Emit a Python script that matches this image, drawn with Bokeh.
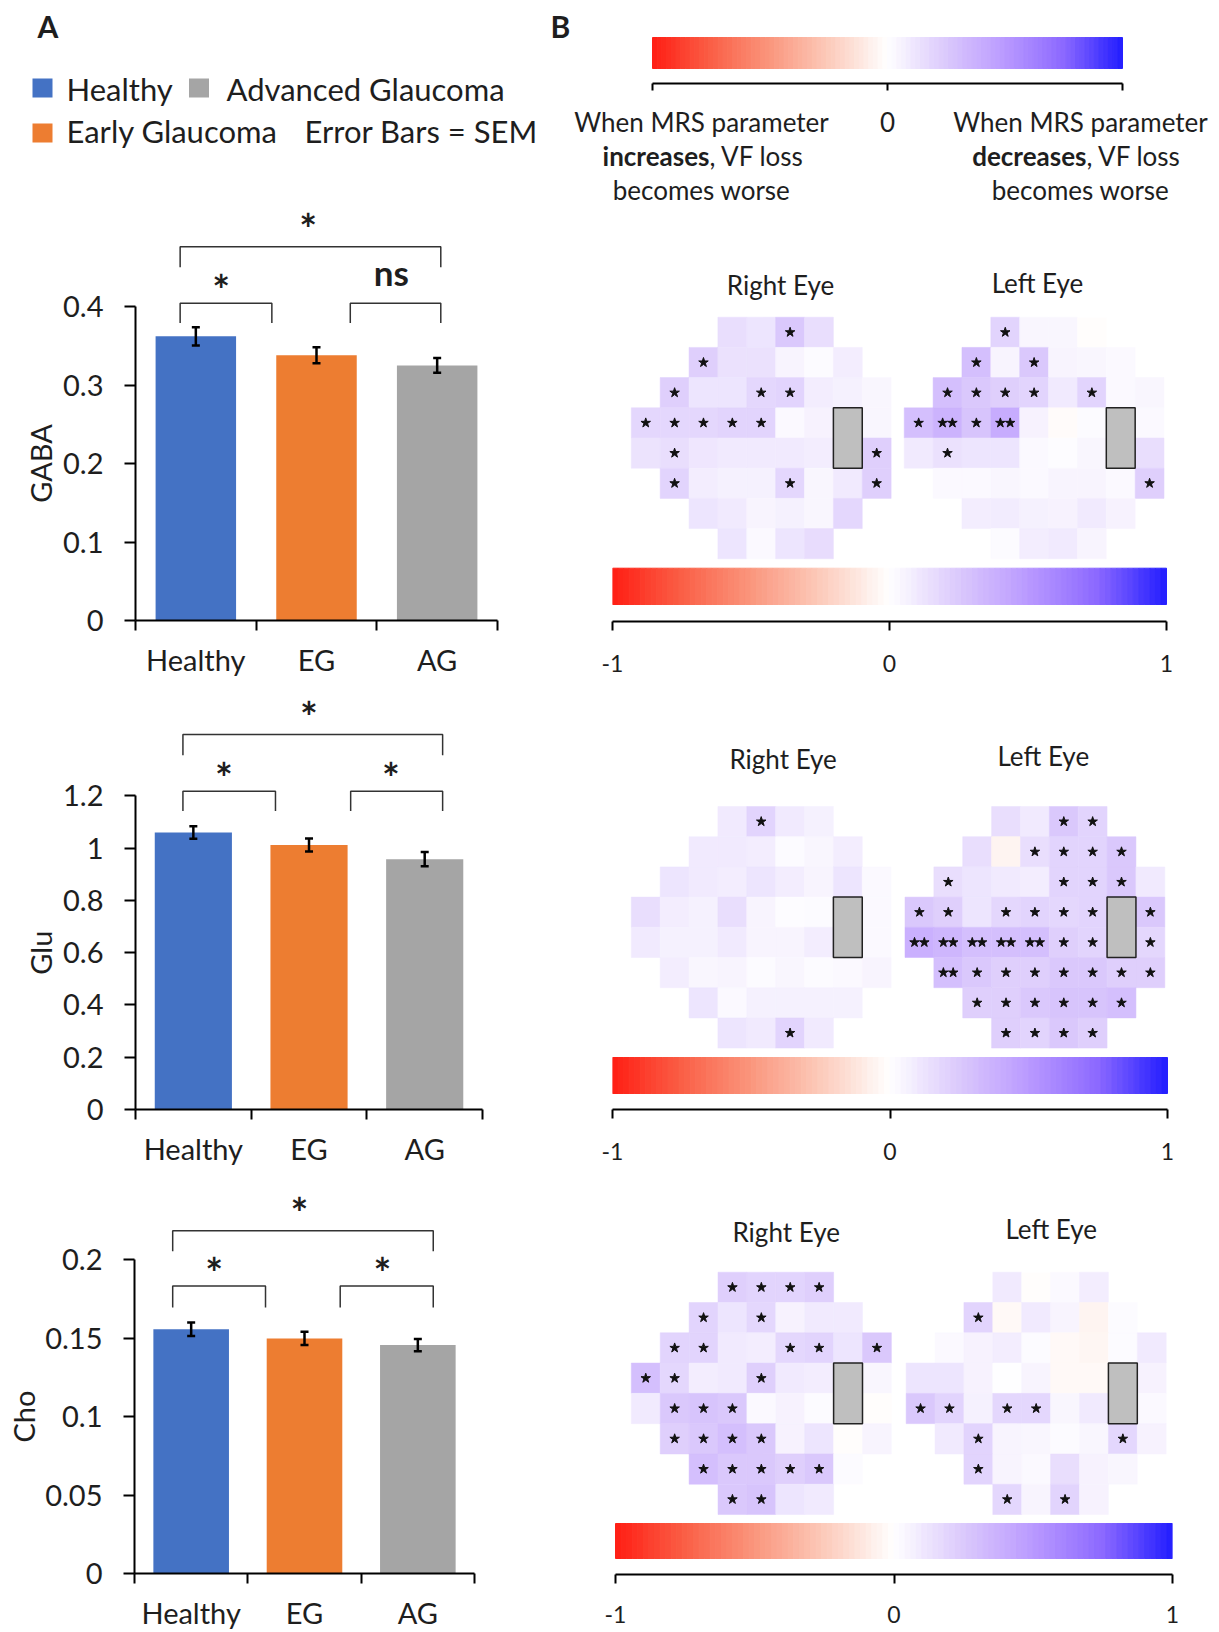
import numpy as np
from bokeh.plotting import figure
from bokeh.layouts import row, column
from bokeh.models import Range1d, FixedTicker, ColumnDataSource, Whisker, TeeHead
from bokeh.transform import linear_cmap
from bokeh.core.properties import value
from bokeh.embed import file_html
from bokeh.resources import INLINE

FONT = "Lato"
INK = "#1e1e1e"

# ------------------------------------------------------------------ data
groups = ["Healthy", "EG", "AG"]
bar_colors = ["#4472C4", "#ED7D31", "#A5A5A5"]
legend_labels = ["Healthy", "Advanced Glaucoma", "Early Glaucoma", "Error Bars = SEM"]
legend_colors = ["#4472C4", "#A5A5A5", "#ED7D31"]

gaba_mean = [0.362, 0.338, 0.325]
gaba_sem = [0.0117, 0.0102, 0.0095]
glu_mean = [1.060, 1.012, 0.958]
glu_sem = [0.024, 0.025, 0.027]
cho_mean = [0.1557, 0.1498, 0.1456]
cho_sem = [0.0043, 0.0042, 0.0039]

gaba_ticks = [0, 0.1, 0.2, 0.3, 0.4]
glu_ticks = [0, 0.2, 0.4, 0.6, 0.8, 1.0, 1.2]
cho_ticks = [0, 0.05, 0.1, 0.15, 0.2]

# significance brackets (x in category units, y in metabolite units)
gaba_br_x0 = [0.37, 1.78, 0.37]
gaba_br_x1 = [1.13, 2.53, 2.53]
gaba_br_top = [0.404, 0.404, 0.476]
gaba_br_leg = [0.379, 0.379, 0.450]
gaba_sig = ["*", "ns", "*"]
gaba_sig_x = [0.71, 2.12, 1.43]
gaba_sig_y = [0.421, 0.444, 0.499]

glu_br_x0 = [0.41, 1.86, 0.41]
glu_br_x1 = [1.21, 2.655, 2.655]
glu_br_top = [1.218, 1.218, 1.435]
glu_br_leg = [1.142, 1.142, 1.356]
glu_sig = ["*", "*", "*"]
glu_sig_x = [0.765, 2.207, 1.50]
glu_sig_y = [1.268, 1.268, 1.504]

cho_br_x0 = [0.337, 1.815, 0.337]
cho_br_x1 = [1.156, 2.636, 2.636]
cho_br_top = [0.1833, 0.1833, 0.2185]
cho_br_leg = [0.1695, 0.1695, 0.2054]
cho_sig = ["*", "*", "*"]
cho_sig_x = [0.703, 2.188, 1.455]
cho_sig_y = [0.1914, 0.1914, 0.2295]

# visual-field grids: first column index of each of the 8 rows
row_start = [3, 2, 1, 0, 0, 1, 2, 3]
# correlation values per test point (None = blind spot); stars per point ("-" = blind spot)
gaba_right = [
    [0.15, 0.12, 0.25, 0.15],
    [0.22, 0.14, 0.14, 0.05, 0.02, 0.08],
    [0.22, 0.12, 0.12, 0.18, 0.20, 0.08, 0.07, 0.04],
    [0.18, 0.18, 0.18, 0.20, 0.20, 0.03, 0.06, None, 0.04],
    [0.13, 0.15, 0.11, 0.10, 0.10, 0.10, 0.08, None, 0.22],
    [0.20, 0.08, 0.07, 0.07, 0.18, 0.04, 0.10, 0.22],
    [0.12, 0.10, 0.05, 0.07, 0.04, 0.18],
    [0.12, 0.03, 0.12, 0.16],
]
gaba_right_sig = ["0010", "100000", "10011000", "1111100-0", "0100000-1", "10001001", "000000", "0000"]
gaba_left = [
    [0.20, 0.04, 0.04, -0.01],
    [0.30, 0.05, 0.25, 0.05, 0.04, 0.03],
    [0.30, 0.25, 0.22, 0.20, 0.10, 0.20, 0.03, 0.04],
    [0.30, 0.36, 0.28, 0.40, 0.06, -0.02, 0.02, None, 0.03],
    [0.10, 0.14, 0.12, 0.12, 0.03, 0.01, 0.04, None, 0.15],
    [0.03, 0.03, 0.04, 0.03, 0.05, 0.05, 0.03, 0.22],
    [0.08, 0.09, 0.07, 0.06, 0.10, 0.06],
    [0.02, 0.08, 0.10, 0.05],
]
gaba_left_sig = ["1000", "101000", "11110100", "1212000-0", "0100000-0", "00000001", "000000", "0000"]

glu_right = [
    [0.10, 0.20, 0.10, 0.07],
    [0.10, 0.10, 0.08, 0.02, 0.04, 0.08],
    [0.12, 0.10, 0.08, 0.12, 0.08, 0.05, 0.12, 0.03],
    [0.15, 0.08, 0.07, 0.15, 0.05, 0.01, 0.02, None, 0.03],
    [0.10, 0.07, 0.07, 0.10, 0.05, 0.05, 0.08, None, 0.03],
    [0.08, 0.04, 0.05, 0.02, 0.04, 0.02, 0.03, 0.05],
    [0.12, 0.03, 0.07, 0.07, 0.07, 0.07],
    [0.12, 0.10, 0.20, 0.10],
]
glu_right_sig = ["0100", "000000", "00000000", "0000000-0", "0000000-0", "00000000", "000000", "0010"]
glu_left = [
    [0.15, 0.10, 0.25, 0.20],
    [0.15, -0.05, 0.15, 0.20, 0.20, 0.25],
    [0.15, 0.12, 0.10, 0.08, 0.20, 0.20, 0.25, 0.10],
    [0.25, 0.22, 0.12, 0.18, 0.20, 0.18, 0.20, None, 0.25],
    [0.38, 0.35, 0.30, 0.30, 0.30, 0.22, 0.20, None, 0.18],
    [0.30, 0.25, 0.22, 0.22, 0.25, 0.25, 0.22, 0.22],
    [0.22, 0.22, 0.25, 0.28, 0.28, 0.30],
    [0.22, 0.20, 0.25, 0.22],
]
glu_left_sig = ["0011", "001111", "10001110", "1101111-1", "2222211-1", "21111111", "111111", "1111"]

cho_right = [
    [0.22, 0.20, 0.20, 0.22],
    [0.20, 0.12, 0.18, 0.06, 0.10, 0.10],
    [0.20, 0.20, 0.10, 0.08, 0.18, 0.20, 0.12, 0.25],
    [0.30, 0.18, 0.08, 0.10, 0.22, 0.10, 0.08, None, 0.04],
    [0.10, 0.25, 0.28, 0.25, 0.03, 0.06, 0.02, None, -0.01],
    [0.22, 0.25, 0.30, 0.25, 0.06, 0.12, -0.01, 0.05],
    [0.30, 0.25, 0.25, 0.22, 0.25, 0.02],
    [0.25, 0.28, 0.12, 0.10],
]
cho_right_sig = ["1111", "101000", "11001101", "1100100-0", "0111000-0", "11110000", "111110", "1100"]
cho_left = [
    [0.10, -0.01, 0.03, 0.08],
    [0.20, -0.03, 0.10, 0.05, -0.05, 0.02],
    [0.03, 0.06, 0.08, 0.02, -0.03, -0.04, 0.02, 0.10],
    [0.12, 0.12, 0.06, 0.00, 0.05, -0.03, -0.03, None, 0.06],
    [0.25, 0.20, 0.07, 0.18, 0.18, 0.04, 0.10, None, 0.03],
    [0.10, 0.20, 0.05, 0.04, 0.02, 0.04, 0.18, 0.06],
    [0.20, 0.05, 0.03, 0.15, 0.06, 0.04],
    [0.18, 0.05, 0.20, 0.06],
]
cho_left_sig = ["0000", "100000", "00000000", "0000000-0", "1101100-0", "01000010", "100000", "1010"]

eye_titles = ["Right Eye", "Left Eye"]
cb_ticks = [-1, 0, 1]

# diverging colour scale (red -> white -> blue)
anchor_v = [-1, -0.75, -0.5, -0.25, 0, 0.25, 0.5, 0.75, 1]
anchor_rgb = [(255, 30, 20), (250, 95, 70), (250, 150, 125), (252, 202, 186), (255, 255, 255),
              (219, 201, 252), (186, 154, 255), (140, 105, 255), (35, 30, 255)]
_t = np.linspace(-1, 1, 256)
_ch = [np.interp(_t, anchor_v, [c[k] for c in anchor_rgb]) for k in range(3)]
PALETTE = ["#%02x%02x%02x" % (int(round(r)), int(round(g)), int(round(b))) for r, g, b in zip(*_ch)]
edges = np.linspace(-1, 1, 101)
cb_cols = [PALETTE[int(round((e + 1) / 2 * 255))] for e in (edges[:-1] + edges[1:]) / 2]


def fig(**kw):
    p = figure(output_backend="svg", toolbar_location=None, **kw)
    p.outline_line_color = None
    p.background_fill_color = "white"
    p.border_fill_color = "white"
    p.grid.visible = False
    return p


def font():
    return dict(text_font=value(FONT), text_color=INK)


TOP_H = 205

# ------------------------------------------------------------------ left header (legend)
hl = fig(width=540, height=TOP_H, x_range=Range1d(0, 540), y_range=Range1d(TOP_H, 0),
         x_axis_location=None, y_axis_location=None, min_border=0)
hl.text(x=[37], y=[25], text=["A"], text_font_size="30px", text_font_style="bold",
        text_baseline="middle", text_align="left", **font())
hl.rect(x=[42, 198.5, 42], y=[87.5, 87.5, 132.5], width=20, height=19,
        fill_color=legend_colors, line_color=None)
hl.text(x=[66, 226, 66, 304], y=[88, 88, 130, 130], text=legend_labels,
        text_font_size="31px", text_baseline="middle", text_align="left", **font())

# ------------------------------------------------------------------ bar charts
FL_BAR, FR_BAR = 134, 497


def bar_chart(height, bb, axis_end, ymax, ticks, means, sems, bx0, bx1, btop, bleg,
              sig, sigx, sigy, ylabel, ylabel_cx, lab_w):
    n = len(groups)
    yr = Range1d(0, ymax)
    p = fig(width=540 - lab_w, height=height,
            x_range=Range1d(0, n * (FR_BAR - FL_BAR) / (axis_end - FL_BAR)), y_range=yr,
            min_border_left=FL_BAR - lab_w, min_border_right=540 - FR_BAR, min_border_top=0,
            min_border_bottom=bb)
    src = ColumnDataSource(dict(
        x=[i + 0.5 for i in range(n)], top=means, color=bar_colors,
        upper=[m + s for m, s in zip(means, sems)], lower=[m - s for m, s in zip(means, sems)]))
    p.vbar(x="x", top="top", width=0.667, fill_color="color", line_color=None, source=src)
    w = Whisker(base="x", upper="upper", lower="lower", source=src, line_color="black",
                line_width=2.5, level="overlay")
    w.upper_head = TeeHead(size=8, line_width=2.5, line_color="black")
    w.lower_head = TeeHead(size=8, line_width=2.5, line_color="black")
    p.add_layout(w)
    xs = [[a, a, b, b] for a, b in zip(bx0, bx1)]
    ys = [[l, t, t, l] for t, l in zip(btop, bleg)]
    p.multi_line(xs, ys, line_color="#333333", line_width=1.5)
    sizes = ["42px" if s == "*" else "35px" for s in sig]
    p.text(x=sigx, y=sigy, text=sig, text_font_size=sizes, text_font_style="bold",
           text_align="center", text_baseline="middle", **font())

    xa = p.xaxis[0]
    xa.ticker = FixedTicker(ticks=[i + 0.5 for i in range(n)], minor_ticks=list(range(n + 1)))
    xa.major_label_overrides = {i + 0.5: g for i, g in enumerate(groups)}
    xa.bounds = (0, n)
    xa.major_tick_in = 0
    xa.major_tick_out = 0
    xa.minor_tick_in = 0
    xa.minor_tick_out = 10
    xa.minor_tick_line_width = 2
    xa.minor_tick_line_color = "black"
    xa.axis_line_width = 2
    xa.axis_line_color = "black"
    xa.major_label_standoff = 11
    xa.major_label_text_font = FONT
    xa.major_label_text_font_size = "29px"
    xa.major_label_text_color = INK

    ya = p.yaxis[0]
    ya.ticker = FixedTicker(ticks=ticks)
    ya.bounds = (ticks[0], ticks[-1])
    ya.major_label_overrides = {t: f"{t:g}" for t in ticks}
    ya.major_tick_in = 0
    ya.major_tick_out = 11
    ya.major_tick_line_width = 2
    ya.major_tick_line_color = "black"
    ya.minor_tick_line_color = None
    ya.axis_line_width = 2
    ya.axis_line_color = "black"
    ya.major_label_standoff = 21
    ya.major_label_text_font = FONT
    ya.major_label_text_font_size = "29px"
    ya.major_label_text_color = INK

    # y-axis title in a narrow companion plot that shares the y range
    lab = fig(width=lab_w, height=height, x_range=Range1d(0, lab_w), y_range=yr,
              x_axis_location=None, y_axis_location=None, min_border_left=0,
              min_border_right=0, min_border_top=0, min_border_bottom=bb)
    lab.text(x=[ylabel_cx], y=[(ticks[0] + ticks[-1]) / 2], text=[ylabel], angle=np.pi / 2,
             text_align="center", text_baseline="middle", text_font_size="29px", **font())
    return row(lab, p)


# GABA: frame 205..620 ; Glu: 690..1109 ; Cho: 1180..1574
r_gaba = bar_chart(485, 70, 497, 415 / 785, gaba_ticks, gaba_mean, gaba_sem,
                   gaba_br_x0, gaba_br_x1, gaba_br_top, gaba_br_leg,
                   gaba_sig, gaba_sig_x, gaba_sig_y, "GABA", 40, 60)
r_glu = bar_chart(490, 71, 482, 419 / 261.3, glu_ticks, glu_mean, glu_sem,
                  glu_br_x0, glu_br_x1, glu_br_top, glu_br_leg,
                  glu_sig, glu_sig_x, glu_sig_y, "Glu", 40, 60)
r_cho = bar_chart(452, 58, 474, 394 / 1573, cho_ticks, cho_mean, cho_sem,
                  cho_br_x0, cho_br_x1, cho_br_top, cho_br_leg,
                  cho_sig, cho_sig_x, cho_sig_y, "Cho", 23, 42)

# ------------------------------------------------------------------ right header (colour key)
CB0, CB1 = 652, 1122
pxu = (CB1 - CB0) / 2.0
mid = (CB0 + CB1) / 2.0
hr = fig(width=679, height=TOP_H, x_range=Range1d(-1 - (CB0 - 540) / pxu, 1 + (1219 - CB1) / pxu),
         y_range=Range1d(TOP_H, 0), x_axis_location=None, y_axis_location=None, min_border=0)
hr.quad(left=edges[:-1], right=edges[1:], top=37, bottom=68, fill_color=cb_cols, line_color=cb_cols)
hr.segment(x0=[cb_ticks[0]], y0=[83], x1=[cb_ticks[-1]], y1=[83], line_color="black", line_width=2)
hr.segment(x0=cb_ticks, y0=[83] * 3, x1=cb_ticks, y1=[90] * 3, line_color="black", line_width=2)
hr.text(x=[(550 - mid) / pxu], y=[25], text=["B"], text_font_size="30px", text_font_style="bold",
        text_baseline="middle", text_align="left", **font())
hr.text(x=[0], y=[121], text=["0"], text_font_size="26px", text_align="center",
        text_baseline="middle", **font())
lc, rc = (701 - mid) / pxu, (1080 - mid) / pxu
lj, rj = (709 - mid) / pxu, (1086 - mid) / pxu
hr.text(x=[lc, rc, lc, rc], y=[121, 121, 189, 189],
        text=["When MRS parameter", "When MRS parameter", "becomes worse", "becomes worse"],
        text_font_size="26px", text_align="center", text_baseline="middle", **font())
hr.text(x=[lj, rj], y=[155, 155], text=["increases", "decreases"], text_font_size="26px",
        text_font_style="bold", text_align="right", text_baseline="middle", **font())
hr.text(x=[lj, rj], y=[155, 155], text=[", VF loss", ", VF loss"], text_font_size="26px",
        text_align="left", text_baseline="middle", **font())


# ------------------------------------------------------------------ visual-field panels
def eye_cells(vals, sig, offset):
    cx, cy, cv, sx, sy, bx = [], [], [], [], [], []
    for r, (rv, rs) in enumerate(zip(vals, sig)):
        for i, (v, s) in enumerate(zip(rv, rs)):
            c = row_start[r] + i
            if v is None:
                bx.append((offset + c + 0.5, r + 0.5))
                continue
            cx.append(offset + c + 0.5)
            cy.append(r + 0.5)
            cv.append(v)
            k = int(s)
            if k == 1:
                sx.append(offset + c + 0.5)
                sy.append(r + 0.5)
            elif k == 2:
                sx += [offset + c + 0.33, offset + c + 0.67]
                sy += [r + 0.5, r + 0.5]
    return cx, cy, cv, sx, sy, bx


FL_P, FR_P = 612, 1172
GRID_L = 630.8


def eye_panel(top, height, axis_y, standoff, c0, c1, col_w, row_h, grid_top, left_off,
              title_x, title_y, cb_top, cb_bot, right_vals, right_sig, left_vals, left_sig):
    s = (c1 - c0) / 2.0
    p = fig(width=679, height=height,
            x_range=Range1d(-1 - (c0 - FL_P) / s, 1 + (FR_P - c1) / s),
            y_range=Range1d(axis_y, top),
            y_axis_location=None, min_border_left=FL_P - 540, min_border_right=1219 - FR_P,
            min_border_top=0, min_border_bottom=top + height - axis_y)
    p.extra_x_ranges = {"ex": Range1d((FL_P - GRID_L) / col_w, (FR_P - GRID_L) / col_w)}
    p.extra_y_ranges = {"ey": Range1d((axis_y - grid_top) / row_h, (top - grid_top) / row_h)}
    cmap = linear_cmap("v", PALETTE, -1, 1)
    for vals, sig, off in [(right_vals, right_sig, 0.0), (left_vals, left_sig, left_off)]:
        cx, cy, cv, sx, sy, bx = eye_cells(vals, sig, off)
        src = ColumnDataSource(dict(x=cx, y=cy, v=cv))
        p.rect(x="x", y="y", width=1, height=1, source=src, fill_color=cmap, line_color=cmap,
               line_width=0.5, x_range_name="ex", y_range_name="ey")
        for xb in sorted(set(b[0] for b in bx)):
            ysb = [b[1] for b in bx if b[0] == xb]
            p.rect(x=[xb], y=[(min(ysb) + max(ysb)) / 2], width=1, height=len(ysb),
                   fill_color="#BFBFBF", line_color="#222222", line_width=1.5,
                   x_range_name="ex", y_range_name="ey")
        p.scatter(x=sx, y=sy, marker="star", size=10, fill_color="#111111", line_color="#111111",
                  x_range_name="ex", y_range_name="ey")
    p.text(x=title_x, y=title_y, text=eye_titles, text_font_size="26px", text_align="center",
           text_baseline="middle", x_range_name="ex", y_range_name="ey", **font())
    p.quad(left=edges[:-1], right=edges[1:], top=cb_top, bottom=cb_bot, fill_color=cb_cols,
           line_color=cb_cols)
    xa = p.xaxis[0]
    xa.ticker = FixedTicker(ticks=cb_ticks)
    xa.bounds = (cb_ticks[0], cb_ticks[-1])
    xa.major_label_overrides = {t: f"{t:g}" for t in cb_ticks}
    xa.major_tick_in = 0
    xa.major_tick_out = 9
    xa.major_tick_line_width = 2
    xa.major_tick_line_color = "black"
    xa.minor_tick_line_color = None
    xa.axis_line_width = 2
    xa.axis_line_color = "black"
    xa.major_label_standoff = standoff
    xa.major_label_text_font = FONT
    xa.major_label_text_font_size = "23px"
    xa.major_label_text_color = INK
    return p


e1 = eye_panel(205, 485, 621, 24, 612, 1166, 28.87, 30.2, 316.7, 9.453,
               [5.17, 14.07], [-1.05, -1.12], 567.7, 604,
               gaba_right, gaba_right_sig, gaba_left, gaba_left_sig)
e2 = eye_panel(690, 480, 1109, 24, 612, 1167, 28.87, 30.2, 806, 9.48,
               [5.26, 14.27], [-1.56, -1.66], 1057, 1093,
               glu_right, glu_right_sig, glu_left, glu_left_sig)
e3 = eye_panel(1170, 462, 1574, 22, 615, 1172, 28.9, 30.29, 1271.7, 9.509,
               [5.36, 14.53], [-1.32, -1.41], 1523, 1558,
               cho_right, cho_right_sig, cho_left, cho_left_sig)

layout = column(row(hl, hr), row(column(r_gaba, r_glu, r_cho), column(e1, e2, e3)))
open("out.html", "w").write(file_html(layout, INLINE, title="MRS and visual field"))
